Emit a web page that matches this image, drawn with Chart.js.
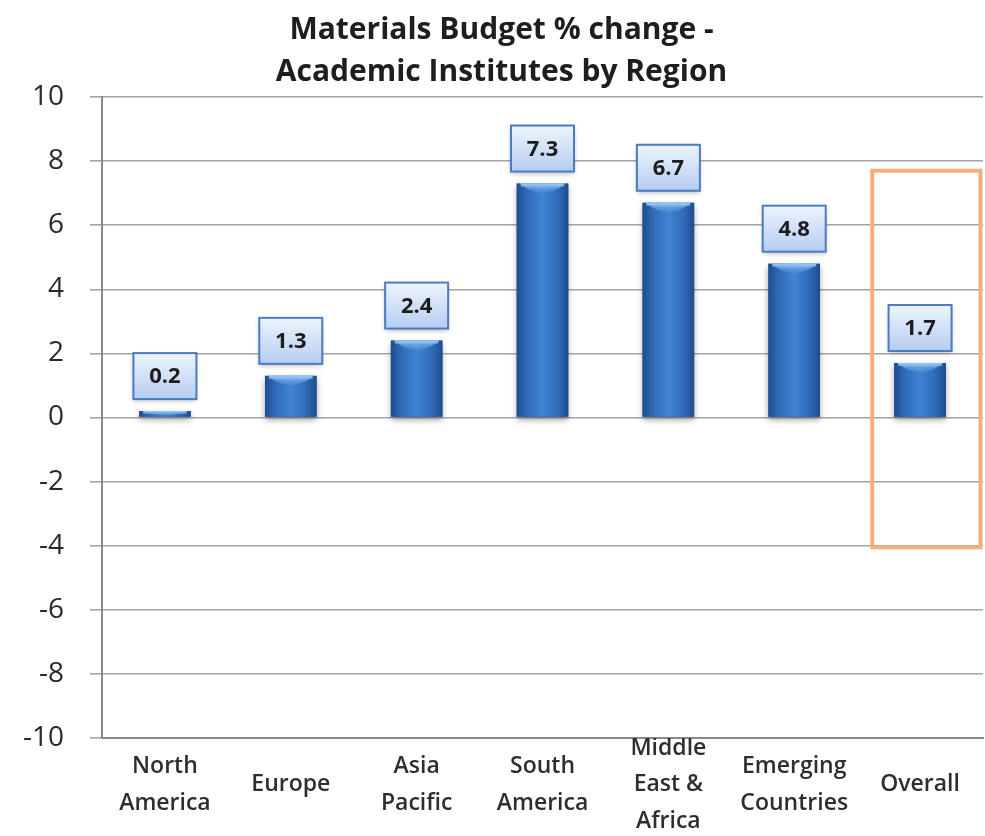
<!DOCTYPE html>
<html>
<head>
<meta charset="utf-8">
<script src="https://cdn.jsdelivr.net/npm/chart.js@4.4.1/dist/chart.umd.min.js"></script>
<style>
  html, body { margin: 0; padding: 0; background: #fff; }
  #wrap { width: 985px; height: 836px; }
</style>
</head>
<body>
<div id="wrap"><canvas id="budgetChart"></canvas></div>
<script>
const regions = [
    ["North", "America"],
    "Europe",
    ["Asia", "Pacific"],
    ["South", "America"],
    ["Middle", "East &", "Africa"],
    ["Emerging", "Countries"],
    "Overall"
];
const changes = [0.2, 1.3, 2.4, 7.3, 6.7, 4.8, 1.7];
const yTicks = [-10, -8, -6, -4, -2, 0, 2, 4, 6, 8, 10];
const titleLines = ["Materials Budget % change -", "Academic Institutes by Region"];

// the "Overall" column gets an orange frame
const highlightIndex = 6;
const highlightRange = [7.7, -4.05];

const FONT = "'Open Sans', 'DejaVu Sans', sans-serif";

// shaded bar bodies drawn over the plain bars
const barShading = {
    id: "barShading",
    afterDatasetsDraw(chart) {
        const ctx = chart.ctx;
        const meta = chart.getDatasetMeta(0);
        meta.data.forEach(bar => {
            const p = bar.getProps(["x", "y", "base", "width"], true);
            const left = p.x - p.width / 2;
            const top = Math.min(p.y, p.base);
            const h = Math.abs(p.base - p.y);

            ctx.save();
            ctx.shadowColor = "rgba(0,0,0,0.35)";
            ctx.shadowBlur = 6;
            ctx.shadowOffsetY = 3;
            const g = ctx.createLinearGradient(left, 0, left + p.width, 0);
            g.addColorStop(0, "#1d4c8c");
            g.addColorStop(0.18, "#2e68b5");
            g.addColorStop(0.5, "#4084d3");
            g.addColorStop(0.82, "#2e68b5");
            g.addColorStop(1, "#1d4c8c");
            ctx.fillStyle = g;
            ctx.fillRect(left, top, p.width, h);
            ctx.restore();

            // light bevel along the top edge
            const capH = Math.min(12, h);
            const cg = ctx.createLinearGradient(0, top, 0, top + capH);
            cg.addColorStop(0, "rgba(150,200,245,0.95)");
            cg.addColorStop(1, "rgba(90,150,225,0)");
            ctx.fillStyle = cg;
            ctx.beginPath();
            ctx.moveTo(left + 3, top);
            ctx.lineTo(left + p.width - 3, top);
            ctx.quadraticCurveTo(p.x, top + capH * 1.6, left + 3, top);
            ctx.fill();
            ctx.fillRect(left + 4, top, p.width - 8, 3);
        });
    }
};

// value callouts above each bar
const valueBoxes = {
    id: "valueBoxes",
    afterDatasetsDraw(chart) {
        const ctx = chart.ctx;
        const meta = chart.getDatasetMeta(0);
        const w = 63, h = 46;
        meta.data.forEach((bar, i) => {
            const p = bar.getProps(["x", "y"], true);
            const bx = p.x - w / 2;
            const by = p.y - 12 - h;

            ctx.save();
            ctx.shadowColor = "rgba(0,0,0,0.3)";
            ctx.shadowBlur = 5;
            ctx.shadowOffsetY = 2;
            const g = ctx.createLinearGradient(0, by, 0, by + h);
            g.addColorStop(0, "#eef4fd");
            g.addColorStop(1, "#b5cdf2");
            ctx.fillStyle = g;
            ctx.fillRect(bx, by, w, h);
            ctx.restore();

            ctx.strokeStyle = "#4a7cc0";
            ctx.lineWidth = 2;
            ctx.strokeRect(bx, by, w, h);

            ctx.fillStyle = "#1c1c1c";
            ctx.font = "bold 22px " + FONT;
            ctx.textAlign = "center";
            ctx.textBaseline = "middle";
            ctx.fillText(changes[i].toFixed(1), p.x, by + h / 2 + 1);
        });
    }
};

const highlightFrame = {
    id: "highlightFrame",
    afterDraw(chart) {
        const ctx = chart.ctx;
        const xs = chart.scales.x;
        const ys = chart.scales.y;
        const catW = (xs.right - xs.left) / regions.length;
        const cx = xs.getPixelForValue(highlightIndex);
        const x1 = cx - catW * 0.38;
        const x2 = Math.min(cx + catW * 0.48, chart.width - 3);
        const y1 = ys.getPixelForValue(highlightRange[0]);
        const y2 = ys.getPixelForValue(highlightRange[1]);
        ctx.save();
        ctx.strokeStyle = "#f4ae7c";
        ctx.lineWidth = 4;
        ctx.strokeRect(x1, y1, x2 - x1, y2 - y1);
        ctx.restore();
    }
};

new Chart(document.getElementById("budgetChart"), {
    type: "bar",
    data: {
        labels: regions,
        datasets: [{
            data: changes,
            backgroundColor: "#3370bd",
            barPercentage: 0.41,
            categoryPercentage: 1
        }]
    },
    options: {
        responsive: true,
        maintainAspectRatio: false,
        animation: false,
        layout: { padding: { left: 20, right: 2, top: 0, bottom: 0 } },
        plugins: {
            legend: { display: false },
            tooltip: { enabled: false },
            title: {
                display: true,
                text: titleLines,
                color: "#1e1e1e",
                font: { family: FONT, size: 30, weight: "bold", lineHeight: 1.4 },
                padding: { top: 9, bottom: 4 }
            }
        },
        scales: {
            x: {
                grid: { display: false },
                border: { display: true, color: "#8a8a8a", width: 2 },
                ticks: {
                    color: "#2e2e2e",
                    font: { family: FONT, size: 23, weight: 600, lineHeight: 1.6 },
                    maxRotation: 0,
                    autoSkip: false,
                    crossAlign: "center",
                    padding: 2
                },
                afterFit(scale) { scale.height = 98; }
            },
            y: {
                min: -10,
                max: 10,
                afterBuildTicks(scale) {
                    scale.ticks = yTicks.map(v => ({ value: v }));
                },
                grid: { color: "#a4a4a4", lineWidth: 1.6, tickLength: 12 },
                border: { display: true, color: "#8a8a8a", width: 2 },
                ticks: {
                    color: "#2a2a2a",
                    font: { family: FONT, size: 28 },
                    padding: 26
                },
                afterFit(scale) { scale.width = 82; }
            }
        }
    },
    plugins: [barShading, valueBoxes, highlightFrame]
});
</script>
</body>
</html>
